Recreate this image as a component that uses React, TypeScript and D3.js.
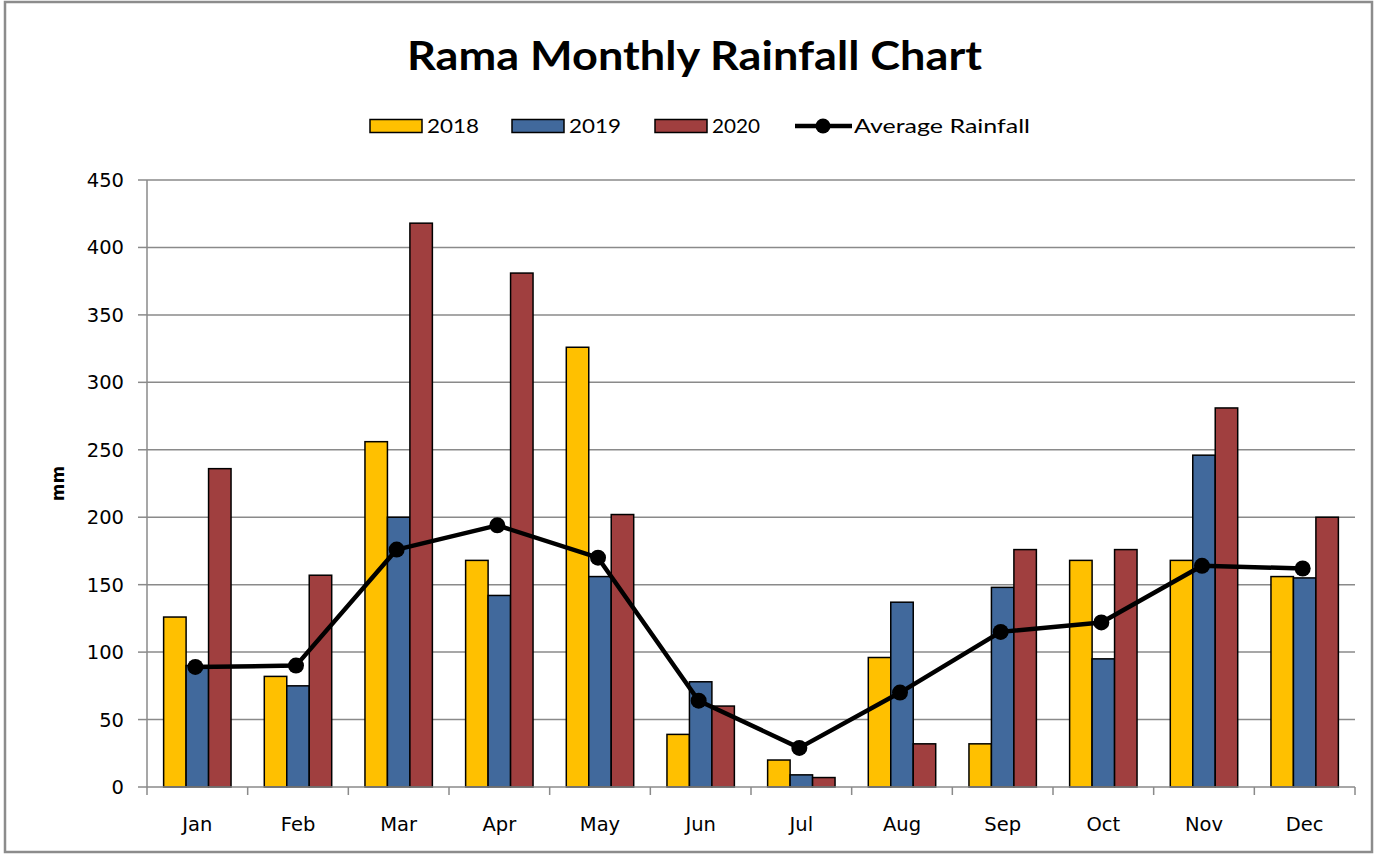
import React from "react";
import * as d3 from "d3";

const months = ["Jan", "Feb", "Mar", "Apr", "May", "Jun", "Jul", "Aug", "Sep", "Oct", "Nov", "Dec"];
const seriesNames = ["2018", "2019", "2020"];
const rain2018 = [126, 82, 256, 168, 326, 39, 20, 96, 32, 168, 168, 156];
const rain2019 = [90, 75, 200, 142, 156, 78, 9, 137, 148, 95, 246, 155];
const rain2020 = [236, 157, 418, 381, 202, 60, 7, 32, 176, 176, 281, 200];
const avgRain = [89, 90, 176, 194, 170, 64, 29, 70, 115, 122, 164, 162];
const yTicks = [0, 50, 100, 150, 200, 250, 300, 350, 400, 450];

const colors = ["#FFC000", "#41699C", "#A03F3F"];
const W = 1375;
const H = 857;
const left = 147;
const right = 1355;
const top = 180;
const bottom = 787;

const App = () => {
  const values = [rain2018, rain2019, rain2020];

  // month bands
  const x = d3.scaleBand<string>().domain(months).range([left, right]);
  // bars inside a month
  const xSub = d3
    .scaleBand<string>()
    .domain(seriesNames)
    .range([0, x.bandwidth()])
    .paddingInner(0)
    .paddingOuter(0.74);
  const y = d3.scaleLinear().domain([0, 450]).range([bottom, top]);

  const cx = (i: number) => (x(months[i]) as number) + x.bandwidth() / 2 - 2;
  const line = d3
    .line<number>()
    .x((d, i) => cx(i))
    .y((d) => y(d));

  const axisColor = "#8a8a8a";
  const tickFont = "'DejaVu Sans', Verdana, sans-serif";
  const labelFont = "Lato, 'Open Sans', sans-serif";

  // legend layout
  const legend = [
    { label: "2018", x: 370, textW: 52 },
    { label: "2019", x: 512, textW: 52 },
    { label: "2020", x: 655, textW: 48 },
  ];

  return (
    <svg
      width={W}
      height={H}
      style={{ position: "absolute", left: 0, top: 0, background: "#fff" }}
    >
      <rect x={5} y={2} width={1367} height={850} fill="#fff" stroke="#8c8c8c" strokeWidth={2.5} />

      <text
        x={407}
        y={70}
        fontFamily={labelFont}
        fontWeight="bold"
        fontSize={40}
        textLength={575}
        lengthAdjust="spacingAndGlyphs"
        fill="#000"
      >
        Rama Monthly Rainfall Chart
      </text>

      {/* legend */}
      {legend.map((l, i) => (
        <g key={l.label}>
          <rect x={l.x} y={119.5} width={52} height={13} fill={colors[i]} stroke="#000" strokeWidth={1.5} />
          <text
            x={l.x + 57}
            y={133}
            fontFamily={labelFont}
            fontSize={19}
            textLength={l.textW}
            lengthAdjust="spacingAndGlyphs"
          >
            {l.label}
          </text>
        </g>
      ))}
      <line x1={795} x2={852} y1={126} y2={126} stroke="#000" strokeWidth={4.5} />
      <circle cx={823} cy={126} r={7.5} fill="#000" />
      <text
        x={854}
        y={133}
        fontFamily={labelFont}
        fontSize={19}
        textLength={176}
        lengthAdjust="spacingAndGlyphs"
      >
        Average Rainfall
      </text>

      {/* grid + y axis */}
      {yTicks.map((t) => (
        <g key={t}>
          {t > 0 && (
            <line x1={left} x2={right} y1={y(t)} y2={y(t)} stroke={axisColor} strokeWidth={1.5} />
          )}
          <line x1={left - 9} x2={left} y1={y(t)} y2={y(t)} stroke={axisColor} strokeWidth={1.5} />
          <text
            x={left - 23}
            y={y(t)}
            dy="0.36em"
            textAnchor="end"
            fontFamily={tickFont}
            fontSize={19.5}
            fill="#000"
          >
            {t}
          </text>
        </g>
      ))}
      <line x1={left} x2={left} y1={top} y2={bottom} stroke={axisColor} strokeWidth={1.5} />
      <text
        transform={`translate(64,${(top + bottom) / 2}) rotate(-90)`}
        textAnchor="middle"
        fontFamily={tickFont}
        fontWeight="bold"
        fontSize={17}
      >
        mm
      </text>

      {/* bars */}
      {months.map((m, i) => (
        <g key={m} transform={`translate(${x(m)},0)`}>
          {seriesNames.map((s, j) => (
            <rect
              key={s}
              x={xSub(s)}
              y={y(values[j][i])}
              width={xSub.bandwidth()}
              height={bottom - y(values[j][i])}
              fill={colors[j]}
              stroke="#000"
              strokeWidth={1.5}
            />
          ))}
        </g>
      ))}

      {/* x axis */}
      <line x1={left} x2={right} y1={bottom} y2={bottom} stroke={axisColor} strokeWidth={1.5} />
      {months.map((m) => (
        <line
          key={"t" + m}
          x1={x(m)}
          x2={x(m)}
          y1={bottom}
          y2={bottom + 8}
          stroke={axisColor}
          strokeWidth={1.5}
        />
      ))}
      <line x1={right} x2={right} y1={bottom} y2={bottom + 8} stroke={axisColor} strokeWidth={1.5} />
      {months.map((m) => (
        <text
          key={"l" + m}
          x={(x(m) as number) + x.bandwidth() / 2}
          y={831}
          textAnchor="middle"
          fontFamily={tickFont}
          fontSize={19.5}
        >
          {m}
        </text>
      ))}

      {/* average line */}
      <path d={line(avgRain) || ""} fill="none" stroke="#000" strokeWidth={4.5} strokeLinejoin="round" />
      {avgRain.map((v, i) => (
        <circle key={i} cx={cx(i)} cy={y(v)} r={8} fill="#000" />
      ))}
    </svg>
  );
};

export default App;
